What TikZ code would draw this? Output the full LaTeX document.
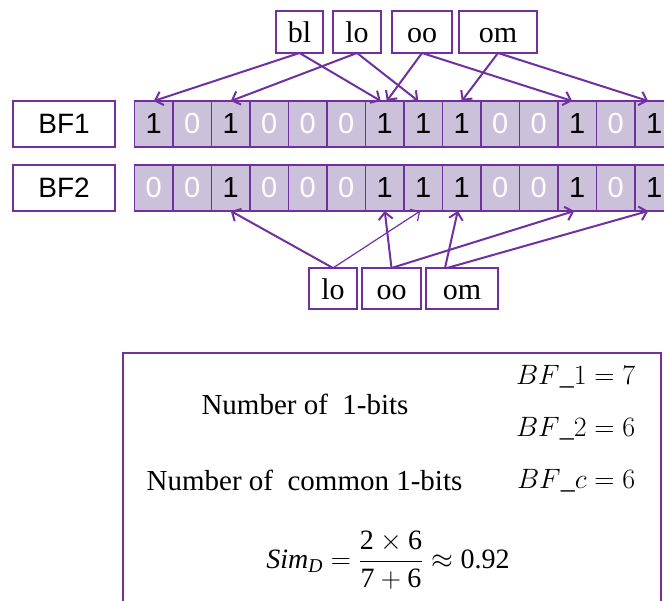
\RequirePackage{fix-cm}
\documentclass[tikz,border=0pt]{standalone}
\usepackage{amsmath}
\usepackage{fontspec}
\setmainfont{Liberation Serif}
\newfontfamily\arialfont{Liberation Sans}
\usetikzlibrary{arrows.meta}
\definecolor{pur}{HTML}{7030A0}
\definecolor{cellfill}{HTML}{CCC1DA}
\begin{document}
\begin{tikzpicture}[x=1pt,y=-1pt,
  every node/.style={inner sep=0pt, outer sep=0pt},
  labelbox/.style={draw=pur, line width=1.8pt, fill=white, minimum width=102pt, minimum height=46pt, font=\arialfont\fontsize{28}{30}\selectfont},
  bitcell/.style={draw=pur, line width=1.6pt, fill=cellfill, minimum width=38.5pt, minimum height=46pt, font=\arialfont\fontsize{29}{30}\selectfont},
  gram/.style={draw=pur, line width=1.8pt, fill=white, minimum height=42pt, text height=22pt, text depth=0pt, font=\fontsize{30}{30}\selectfont},
  arr/.style={draw=pur, line width=2pt, -{Straight Barb[length=7pt,width=14pt]}},
  txt/.style={font=\fontsize{29}{32}\selectfont},
  mth/.style={font=\fontsize{28}{30}\selectfont},
  frame/.style={draw=pur, line width=1.8pt}
]
\useasboundingbox (0,0) rectangle (664,601);
\clip (0,0) rectangle (664,601);

% labels
\node[labelbox] (bf1) at (64,124) {BF1};
\node[labelbox] (bf2) at (64,188) {BF2};

% bit cells
\foreach \b/\col [count=\i] in {1/black,0/white,1/black,0/white,0/white,0/white,1/black,1/black,1/black,0/white,0/white,1/black,0/white,1/black}
  \node[bitcell, text=\col] (c\i) at ({115.25+38.5*\i},124) {\b};
\foreach \b/\col [count=\i] in {0/white,0/white,1/black,0/white,0/white,0/white,1/black,1/black,1/black,0/white,0/white,1/black,0/white,1/black}
  \node[bitcell, text=\col] (d\i) at ({115.25+38.5*\i},188) {\b};

% top bigrams
\node[gram, minimum width=47pt] (tbl) at (299.5,32) {bl};
\node[gram, minimum width=48pt] (tlo) at (357,32) {lo};
\node[gram, minimum width=60pt] (too) at (422,32) {oo};
\node[gram, minimum width=78pt] (tom) at (498,32) {om};

% bottom bigrams
\node[gram, minimum width=48pt, minimum height=41pt] (blo) at (333,288.5) {lo};
\node[gram, minimum width=59pt, minimum height=41pt] (boo) at (391.5,288.5) {oo};
\node[gram, minimum width=72pt, minimum height=41pt] (bom) at (462,288.5) {om};

% top arrows
\draw[arr] (tbl.south) -- (c1.north);
\draw[arr] (tbl.south) -- ([xshift=-4pt]c7.north);
\draw[arr] (tlo.south) -- (c3.north);
\draw[arr] (tlo.south) -- ([xshift=-5pt]c8.north);
\draw[arr] (too.south) -- ([xshift=2pt]c7.north);
\draw[arr] (too.south) -- ([xshift=-5pt]c12.north);
\draw[arr] (tom.south) -- (c9.north);
\draw[arr] (tom.south) -- ([xshift=-6pt]c14.north);

% bottom arrows
\draw[arr] (blo.north) -- (d3.south);
\draw[arr, line width=1.2pt] (blo.north) -- ([xshift=-3pt]d8.south);
\draw[arr] (boo.north) -- (d7.south);
\draw[arr] (boo.north) -- ([xshift=-3pt]d12.south);
\draw[arr] ([xshift=-17pt]bom.north) -- ([xshift=-4pt]d9.south);
\draw[arr] ([xshift=-15pt]bom.north) -- ([xshift=-6pt]d14.south);

% result frame
\draw[frame] (123,353) rectangle (661,608);
\node[txt, anchor=base] (n1) at (305,414) {Number of\ \ 1-bits};
\node[txt, anchor=base] (n2) at (304.5,490) {Number of\ \ common 1-bits};
\node[mth, anchor=base west] (v1) at (516,385) {$BF\_1=7$};
\node[mth, anchor=base west] (v2) at (516,436) {$BF\_2=6$};
\node[mth, anchor=base west] (v3) at (517,488.5) {$BF\_c=6$};
\node[font=\fontsize{28}{30}\selectfont] (sim) at (388,560) {$\textit{Sim}_{\textit{D}}=\dfrac{\text{2}\times\text{6}}{\text{7}+\text{6}}\approx\text{0.92}$};
\end{tikzpicture}
\end{document}
